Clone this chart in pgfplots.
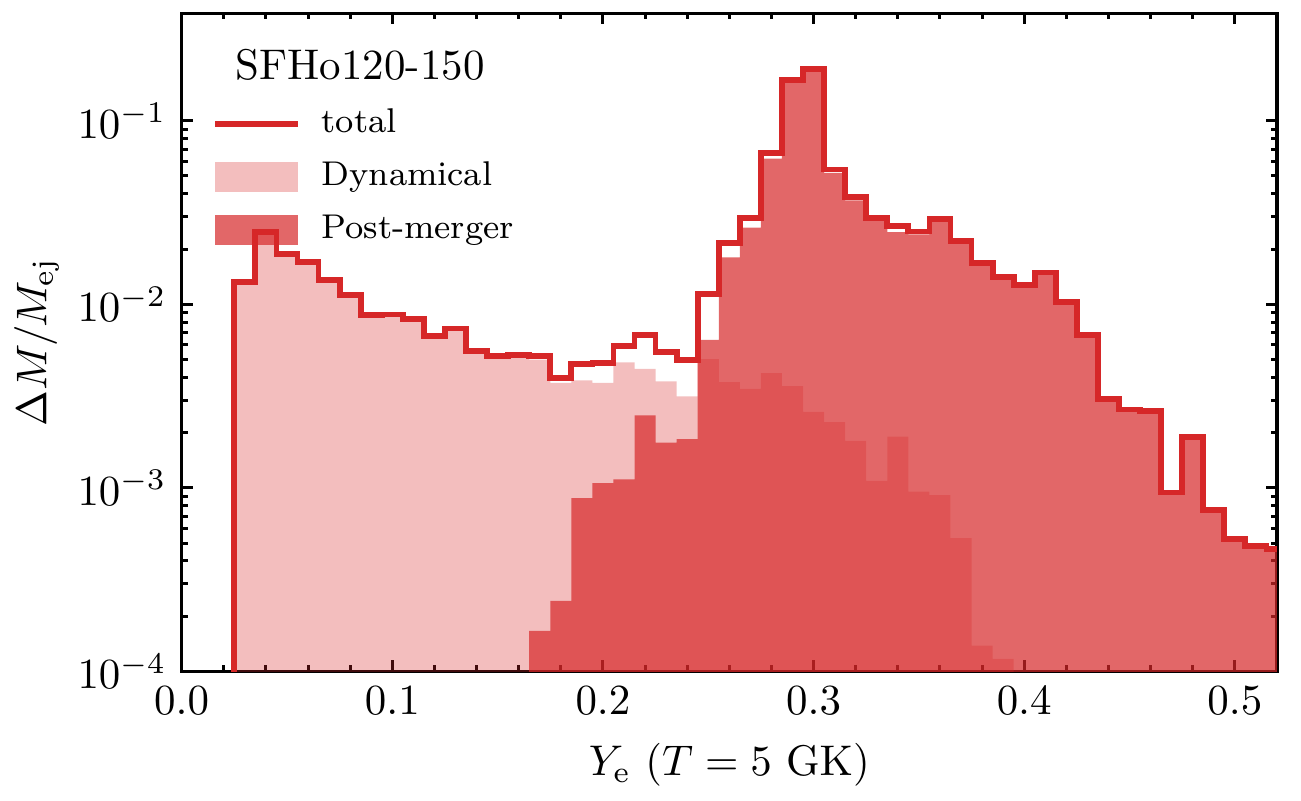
\documentclass[border=0pt]{standalone}
\usepackage{pgfplots}
\usepackage{pgfplotstable}
\pgfplotsset{compat=1.18}
\definecolor{tabred}{RGB}{214,39,40}

\pgfplotstableread{
x y
0.025 1e-6
0.025 0.0132
0.035 0.0248
0.045 0.0187
0.055 0.0170
0.065 0.0135
0.075 0.0112
0.085 0.00872
0.095 0.0088
0.105 0.0083
0.115 0.00673
0.125 0.00738
0.135 0.00558
0.145 0.0052
0.155 0.0053
0.165 0.0050
0.175 0.00373
0.185 0.00385
0.195 0.00373
0.205 0.00483
0.215 0.00444
0.225 0.00380
0.235 0.00315
0.245 0.00503
0.255 0.00377
0.265 0.00346
0.275 0.00421
0.285 0.00358
0.295 0.00259
0.305 0.00228
0.315 0.00180
0.325 0.00109
0.335 0.00190
0.345 0.000953
0.355 0.000913
0.365 0.000532
0.375 0.000138
0.385 0.000117
0.395 0.000117
0.395 1e-6
}\dyntable

\pgfplotstableread{
x y
0.165 1e-6
0.165 0.000166
0.175 0.000242
0.185 0.000877
0.195 0.00106
0.205 0.00111
0.215 0.00248
0.225 0.00176
0.235 0.00184
0.245 0.0064
0.255 0.0180
0.265 0.0262
0.275 0.0622
0.285 0.163
0.295 0.189
0.305 0.0520
0.315 0.0368
0.325 0.0284
0.335 0.0247
0.345 0.0240
0.355 0.0282
0.365 0.0217
0.375 0.0167
0.385 0.0140
0.395 0.0127
0.405 0.0149
0.415 0.0103
0.425 0.00682
0.435 0.00305
0.445 0.00267
0.455 0.00262
0.465 0.000942
0.475 0.00189
0.485 0.000759
0.495 0.000526
0.505 0.000484
0.515 0.000466
0.525 0.000466
0.525 1e-6
}\pmtable

\pgfplotstableread{
x y
0.025 1e-6
0.025 0.0132
0.035 0.0248
0.045 0.0187
0.055 0.0170
0.065 0.0135
0.075 0.0112
0.085 0.00872
0.095 0.0088
0.105 0.0083
0.115 0.00673
0.125 0.00738
0.135 0.00558
0.145 0.0052
0.155 0.0053
0.165 0.0052
0.175 0.00397
0.185 0.00473
0.195 0.00479
0.205 0.00594
0.215 0.00679
0.225 0.00552
0.235 0.00497
0.245 0.01133
0.255 0.0216
0.265 0.0295
0.275 0.0664
0.285 0.167
0.295 0.192
0.305 0.0543
0.315 0.0386
0.325 0.0295
0.335 0.0266
0.345 0.0249
0.355 0.0291
0.365 0.0222
0.375 0.0168
0.385 0.0141
0.395 0.0127
0.405 0.0149
0.415 0.0103
0.425 0.00682
0.435 0.00305
0.445 0.00267
0.455 0.00262
0.465 0.000942
0.475 0.00189
0.485 0.000759
0.495 0.000526
0.505 0.000484
0.515 0.000466
0.525 0.000466
}\totaltable

\begin{document}
\begin{tikzpicture}
\begin{axis}[
  width=255.2pt, height=153.3pt, scale only axis,
  xmin=0, xmax=0.52, ymin=1e-4, ymax=0.385,
  ymode=log,
  xtick={0,0.1,0.2,0.3,0.4,0.5},
  minor x tick num=4,
  xticklabel style={/pgf/number format/.cd, fixed, fixed zerofill, precision=1},
  ytick={1e-4,1e-3,1e-2,1e-1},
  tick align=inside, xtick pos=both, ytick pos=both,
  major tick length=2.6pt, minor tick length=1.4pt,
  every tick/.style={black, line width=0.7pt},
  axis line style={line width=0.8pt},
  xlabel={$Y_{\rm e}$ $(T=5~{\rm GK})$},
  ylabel={$\Delta M/M_{\rm ej}$},
  ylabel shift=-2.5pt,
  legend style={at={(rel axis cs:0.0273,0.859)}, anchor=north west, draw=none, fill=none,
    font=\footnotesize, row sep=4.3pt, column sep=4.8pt, inner sep=0pt,
    nodes={inner sep=0pt, text height=6pt, text depth=2pt}},
  legend cell align=left,
]
\addlegendimage{legend image code/.code={\draw[tabred, line width=1.35pt] (0pt,0pt) -- (19.3pt,0pt);}}
\addlegendentry{total}
\addlegendimage{legend image code/.code={\path[fill=tabred, draw=none, fill opacity=0.3] (0pt,-3.5pt) rectangle (19.3pt,3.5pt);}}
\addlegendentry{Dynamical}
\addlegendimage{legend image code/.code={\path[fill=tabred, draw=none, fill opacity=0.7] (0pt,-3.5pt) rectangle (19.3pt,3.5pt);}}
\addlegendentry{Post-merger}

\addplot[const plot mark left, draw=none, fill=tabred, fill opacity=0.3, forget plot] table[x=x,y=y] {\dyntable} -- cycle;
\addplot[const plot mark left, draw=none, fill=tabred, fill opacity=0.7, forget plot] table[x=x,y=y] {\pmtable} -- cycle;
\addplot[const plot mark left, draw=tabred, line width=1.35pt, line join=miter, forget plot] table[x=x,y=y] {\totaltable};

\node[anchor=base] at (rel axis cs:0.163,0.9) {SFHo120-150};
\end{axis}
\path (current axis.north east) ++(5.6pt,3.1pt);
\end{tikzpicture}
\end{document}
